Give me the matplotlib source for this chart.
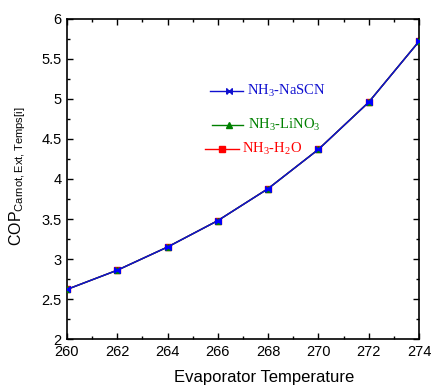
import numpy as np
import matplotlib
matplotlib.use('Agg')
import matplotlib.pyplot as plt
from matplotlib.ticker import MultipleLocator

plt.rcParams['font.family'] = 'Liberation Sans'
plt.rcParams['mathtext.fontset'] = 'custom'
plt.rcParams['mathtext.rm'] = 'Liberation Serif'
plt.rcParams['mathtext.sf'] = 'Liberation Sans'

# evaporator temperature (K) and Carnot COP for the three working pairs
temps = [260, 262, 264, 266, 268, 270, 272, 274]
cop_h2o = [2.62, 2.86, 3.15, 3.48, 3.88, 4.37, 4.96, 5.72]
cop_lino3 = [2.62, 2.86, 3.15, 3.48, 3.88, 4.37, 4.96, 5.72]
cop_nascn = [2.62, 2.86, 3.15, 3.48, 3.88, 4.37, 4.96, 5.72]

names = ['NH$_3$-NaSCN', 'NH$_3$-LiNO$_3$', 'NH$_3$-H$_2$O']

bowtie = [(-1, -1), (1, 1), (1, -1), (-1, 1), (-1, -1)]

fig = plt.figure(figsize=(4.33, 3.89), dpi=100)
ax = fig.add_axes([0.1547, 0.1285, 0.813, 0.8227])

ax.plot(temps, cop_h2o, color='#ff0000', lw=1.0, marker='s', ms=4.5,
        mec='#ff0000', mfc='#ff0000', zorder=2)
ax.plot(temps, cop_lino3, color='#008000', lw=1.0, marker='^', ms=4.5,
        mec='#008000', mfc='#008000', zorder=3)
ax.plot(temps, cop_nascn, color='#1010d0', lw=1.1, marker=bowtie, ms=4,
        mec='#0000ff', mfc='#0000ff', zorder=4)

# hand-placed key entries
key = [
    (0.406, 0.500, 0.460, 0.511, 0.775, '#1010d0', bowtie, 4, names[0]),
    (0.412, 0.500, 0.460, 0.514, 0.669, '#008000', '^', 5, names[1]),
    (0.392, 0.490, 0.440, 0.497, 0.594, '#ff0000', 's', 5, names[2]),
]
for x0, x1, xm, xt, y, c, m, ms, label in key:
    ax.plot([x0, x1], [y, y], color=c, lw=1.0, transform=ax.transAxes)
    ax.plot([xm], [y], color=c, marker=m, ms=ms, transform=ax.transAxes)
    ax.text(xt, y, label, color=c, fontsize=10.5, family='Liberation Serif',
            va='center', ha='left', transform=ax.transAxes)

ax.set_xlim(260, 274)
ax.set_ylim(2, 6)
ax.xaxis.set_major_locator(MultipleLocator(2))
ax.xaxis.set_minor_locator(MultipleLocator(1))
ax.yaxis.set_major_locator(MultipleLocator(0.5))
ax.yaxis.set_minor_locator(MultipleLocator(0.25))
ax.yaxis.set_major_formatter(plt.FuncFormatter(lambda v, p: f'{v:g}'))
ax.tick_params(which='both', direction='in', top=True, right=True,
               labelsize=10.5, width=1.0)
ax.tick_params(which='major', length=4, pad=4)
ax.tick_params(which='minor', length=2.5)
for s in ax.spines.values():
    s.set_linewidth(1.2)

ax.set_xlabel('Evaporator Temperature', fontsize=12)
ax.xaxis.set_label_coords(0.56, -0.098)
ax.set_ylabel(r'COP$_{\mathsf{Carnot,Ext,Temps[i]}}$', fontsize=11.5)
ax.yaxis.set_label_coords(-0.112, 0.51)

fig.savefig('out.png', dpi=100)
